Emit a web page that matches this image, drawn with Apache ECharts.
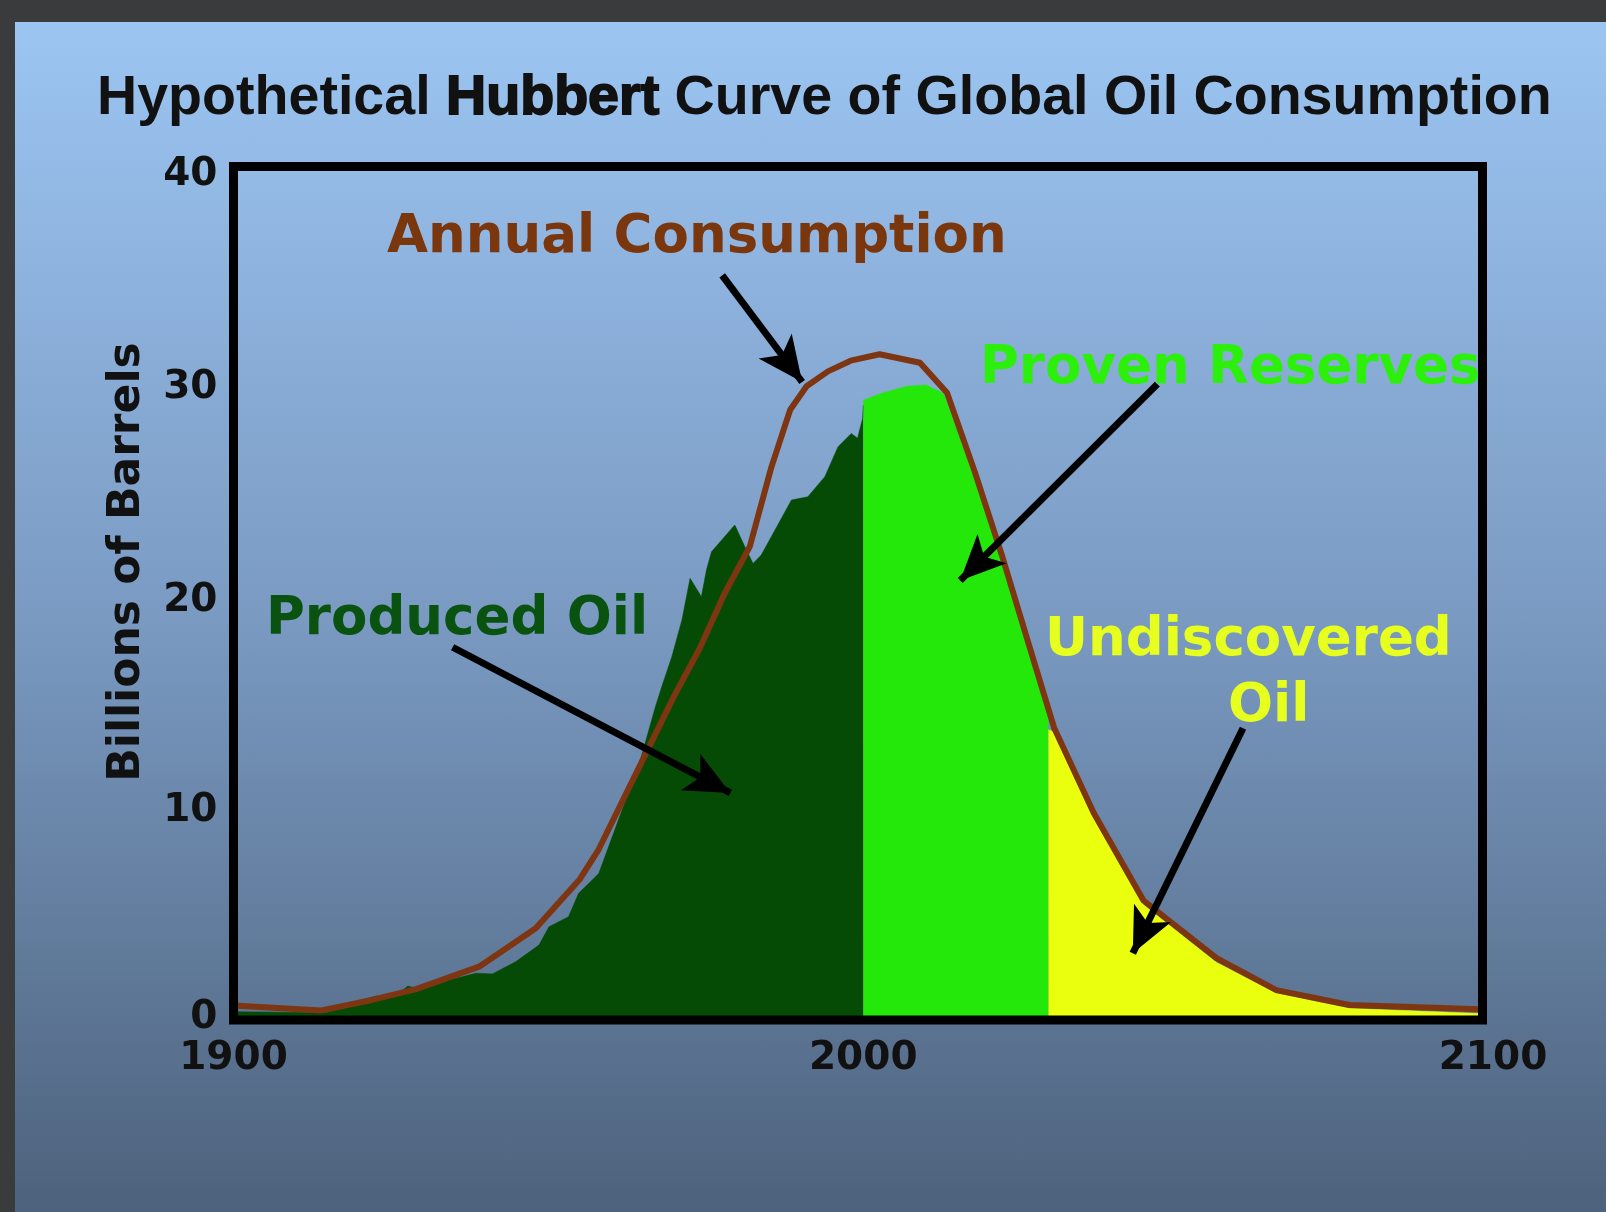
<!DOCTYPE html>
<html>
<head>
  <meta charset="utf-8" />
  <title>Hubbert Curve</title>
  <script src="https://cdn.jsdelivr.net/npm/echarts@6/dist/echarts.min.js"></script>
  <style>
    html, body { margin: 0; padding: 0; background: #3a3b3d; }
    #panel { position: absolute; left: 15px; top: 22px; width: 1591px; height: 1190px;
             background: linear-gradient(#9cc5f2, #7a9ac2 50%, #4d627c); }
    #main { position: absolute; left: 0; top: 0; width: 1606px; height: 1212px; }
  </style>
</head>
<body>
<div id="panel"></div>
<div id="main"></div>
<script type="text/javascript">
  // annual consumption curve (brown line)
  var consumptionYears = [1900, 1914, 1922, 1929, 1939, 1948, 1955, 1958, 1961, 1966, 1970, 1974, 1978, 1982,
    1985.4, 1988.4, 1991, 1994.4, 1998, 2002.6, 2009, 2013.3, 2017.7, 2022, 2026.6, 2030.3, 2036.6, 2044.5,
    2056.1, 2065.6, 2077.2, 2098];
  var consumption = [0.68, 0.45, 0.94, 1.45, 2.5, 4.3, 6.6, 8.0, 9.8, 12.8, 15.2, 17.4, 20.0, 22.2,
    25.9, 28.6, 29.7, 30.4, 30.9, 31.2, 30.8, 29.4, 25.7, 21.8, 17.3, 13.7, 9.7, 5.6,
    2.9, 1.4, 0.7, 0.5];

  // produced oil (dark green)
  var producedYears = [1900, 1914.7, 1921.1, 1922.7, 1925.3, 1927.7, 1929, 1938.5, 1941.1, 1944.8, 1948.5, 1950.1,
    1953.2, 1954.8, 1956.4, 1958, 1961.7, 1964.3, 1967, 1968, 1969.6, 1971.2, 1972.5, 1974.3, 1975.1, 1975.9,
    1979.6, 1981.2, 1982.5, 1983.8, 1985.4, 1988.6, 1991.2, 1993.9, 1996, 1998.1, 1999.1, 1999.9, 2000];
  var produced = [0.39, 0.34, 1.0, 1.12, 1.06, 1.59, 1.48, 2.19, 2.16, 2.73, 3.51, 4.37,
    4.84, 5.94, 6.4, 6.87, 9.84, 11.87, 14.68, 15.62, 17.02, 18.74, 20.7, 19.84, 21.09, 21.94,
    23.2, 22.18, 21.4, 21.79, 22.65, 24.37, 24.52, 25.46, 26.87, 27.49, 27.27, 28.2, 28.8];

  // proven reserves (bright green)
  var provenYears = [2000, 2003.2, 2006.9, 2010, 2012.7, 2017.7, 2022, 2026.6, 2029.4];
  var proven = [29.05, 29.4, 29.7, 29.76, 29.37, 25.5, 21.6, 17.1, 14.3];

  // undiscovered oil (yellow)
  var undiscoveredYears = [2029.4, 2030.3, 2036.6, 2044.5, 2056.1, 2065.6, 2077.2, 2098];
  var undiscovered = [13.6, 13.5, 9.5, 5.4, 2.7, 1.25, 0.55, 0.3];

  // annotation arrows [year, billions], tail -> tip
  var arrowFrom = [[1977.6, 34.9], [2046.7, 29.8], [1934.8, 17.47], [2060.3, 13.67]];
  var arrowTo = [[1990.3, 29.9], [2015.4, 20.6], [1978.9, 10.64], [2042.8, 3.13]];

  function pairs(xs, ys) {
    var out = [];
    for (var i = 0; i < xs.length; i++) out.push([xs[i], ys[i]]);
    return out;
  }

  function areaSeries(xs, ys, color) {
    return {
      type: 'line',
      data: pairs(xs, ys),
      showSymbol: false,
      smooth: false,
      lineStyle: { color: color, width: 0.5 },
      areaStyle: { color: color, opacity: 1 },
      z: 2
    };
  }

  var arrows = [];
  for (var i = 0; i < arrowFrom.length; i++) {
    arrows.push([{ coord: arrowFrom[i] }, { coord: arrowTo[i], symbolSize: [31, 45] }]);
  }

  var labelFont = 'DejaVu Sans';
  var tickStyle = { fontFamily: labelFont, fontWeight: 'bold', fontSize: 39, color: '#111' };
  var chart = echarts.init(document.getElementById('main'), null, { renderer: 'canvas' });
  var option = {
    animation: false,
    backgroundColor: 'transparent',
    title: {
      left: 92,
      top: 66,
      text: 'Hypothetical {h|Hubbert} Curve of Global Oil Consumption',
      textStyle: {
        fontFamily: 'Liberation Sans',
        fontWeight: 'bold',
        fontSize: 55.6,
        color: '#111',
        rich: {
          h: {
            fontFamily: 'Liberation Sans',
            fontWeight: 'bold',
            fontSize: 55.6,
            color: '#111',
            textBorderColor: '#111',
            textBorderWidth: 1.8
          }
        }
      }
    },
    grid: [
      { left: 233.5, top: 166.5, width: 1259.5, height: 853.5 },
      { left: 233.5, top: 166.5, width: 1249, height: 853.5, show: true,
        borderColor: '#000', borderWidth: 9, backgroundColor: 'transparent', z: 10 }
    ],
    xAxis: [
      {
        type: 'value', min: 1900, max: 2100, interval: 100,
        axisLine: { show: false }, axisTick: { show: false }, splitLine: { show: false },
        axisLabel: { margin: 19, fontFamily: labelFont, fontWeight: 'bold', fontSize: 39, color: '#111',
          formatter: function (v) { return String(v); } }
      },
      { gridIndex: 1, type: 'value', min: 0, max: 1, show: false }
    ],
    yAxis: [
      {
        type: 'value', min: 0, max: 40, interval: 10,
        axisLine: { show: false }, axisTick: { show: false }, splitLine: { show: false },
        axisLabel: {
          margin: 16, fontFamily: labelFont, fontWeight: 'bold', fontSize: 39, color: '#111',
          formatter: function (v) {
            if (v === 0) return '{z|0}';
            if (v === 10) return '{m|10}';
            return '{d|' + v + '}';
          },
          rich: {
            z: Object.assign({ padding: [0, 0, 4, 0] }, tickStyle),
            m: Object.assign({ padding: [8, 0, 0, 0] }, tickStyle),
            d: Object.assign({ padding: [16, 0, 0, 0] }, tickStyle)
          }
        }
      },
      { gridIndex: 1, type: 'value', min: 0, max: 1, show: false }
    ],
    series: [
      areaSeries(producedYears, produced, '#054b05'),
      areaSeries(provenYears, proven, '#24e80a'),
      areaSeries(undiscoveredYears, undiscovered, '#eaff0e'),
      {
        name: 'Annual Consumption',
        type: 'line',
        data: pairs(consumptionYears, consumption),
        showSymbol: false,
        smooth: false,
        lineStyle: { color: '#7d3611', width: 6, join: 'round' },
        z: 4,
        markLine: {
          silent: true,
          symbol: ['none', 'arrow'],
          label: { show: false },
          lineStyle: { color: '#000', width: 7, type: 'solid' },
          data: arrows
        }
      }
    ],
    graphic: [
      { type: 'text', z: 100, x: 387, y: 238,
        style: { text: 'Annual Consumption', font: 'bold 53px "DejaVu Sans"', fill: '#7a360d', verticalAlign: 'middle' } },
      { type: 'text', z: 100, x: 980, y: 369,
        style: { text: 'Proven Reserves', font: 'bold 53px "DejaVu Sans"', fill: '#2cf00c', verticalAlign: 'middle' } },
      { type: 'text', z: 100, x: 266, y: 620,
        style: { text: 'Produced Oil', font: 'bold 53px "DejaVu Sans"', fill: '#0a5210', verticalAlign: 'middle' } },
      { type: 'text', z: 100, x: 1045, y: 641,
        style: { text: 'Undiscovered', font: 'bold 53px "DejaVu Sans"', fill: '#e6ff1e', verticalAlign: 'middle' } },
      { type: 'text', z: 100, x: 1228, y: 707,
        style: { text: 'Oil', font: 'bold 53px "DejaVu Sans"', fill: '#e6ff1e', verticalAlign: 'middle' } },
      { type: 'text', z: 100, x: 128, y: 562, rotation: Math.PI / 2,
        style: { text: 'Billions of Barrels', font: 'bold 44px "DejaVu Sans"', fill: '#111',
          align: 'center', verticalAlign: 'middle' } }
    ]
  };
  chart.setOption(option);
</script>
</body>
</html>
